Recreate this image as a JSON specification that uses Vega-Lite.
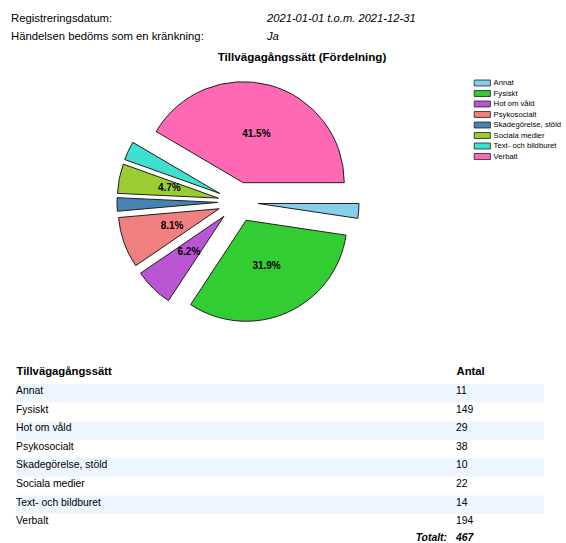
{
  "$schema": "https://vega.github.io/schema/vega-lite/v6.json",
  "padding": 0,
  "spacing": 0,
  "bounds": "flush",
  "config": {
    "view": {"stroke": null},
    "font": "Liberation Sans",
    "text": {"color": "#000000"}
  },
  "datasets": {
    "fordelning": [
      {"Tillvägagångssätt": "Annat", "Antal": 11},
      {"Tillvägagångssätt": "Fysiskt", "Antal": 149},
      {"Tillvägagångssätt": "Hot om våld", "Antal": 29},
      {"Tillvägagångssätt": "Psykosocialt", "Antal": 38},
      {"Tillvägagångssätt": "Skadegörelse, stöld", "Antal": 10},
      {"Tillvägagångssätt": "Sociala medier", "Antal": 22},
      {"Tillvägagångssätt": "Text- och bildburet", "Antal": 14},
      {"Tillvägagångssätt": "Verbalt", "Antal": 194}
    ],
    "urval": [
      {"Fält": "Registreringsdatum:", "Värde": "2021-01-01 t.o.m. 2021-12-31"},
      {"Fält": "Händelsen bedöms som en kränkning:", "Värde": "Ja"}
    ]
  },
  "vconcat": [
    {
      "width": 476,
      "height": 66,
      "data": {"name": "urval"},
      "encoding": {
        "y": {"field": "Fält", "type": "nominal", "sort": null, "axis": null,
              "scale": {"type": "point", "range": [18.5, 37], "padding": 0}}
      },
      "layer": [
        {
          "mark": {"type": "text", "align": "left", "baseline": "middle", "fontSize": 11.3},
          "encoding": {
            "x": {"datum": "Fält", "type": "nominal", "axis": null,
                  "scale": {"type": "point", "domain": ["Fält", "Värde"], "range": [11, 267], "padding": 0}},
            "text": {"field": "Fält"}
          }
        },
        {
          "mark": {"type": "text", "align": "left", "baseline": "middle", "fontSize": 11.2, "fontStyle": "italic"},
          "encoding": {
            "x": {"datum": "Värde", "type": "nominal"},
            "text": {"field": "Värde"}
          }
        }
      ]
    },
    {
      "width": 476,
      "height": 272,
      "title": {
        "text": "Tillvägagångssätt (Fördelning)",
        "fontSize": 11.6,
        "fontWeight": "bold",
        "color": "#000000",
        "anchor": "middle",
        "frame": "group",
        "dx": 64,
        "offset": 2
      },
      "data": {"name": "fordelning"},
      "transform": [
        {"joinaggregate": [{"op": "sum", "field": "Antal", "as": "Summa"}]}
      ],
      "encoding": {
        "theta": {"field": "Antal", "type": "quantitative", "stack": true,
                  "scale": {"range": [1.5707963, 7.8539816]}},
        "order": {"field": "Tillvägagångssätt", "type": "ordinal", "sort": "ascending"}
      },
      "layer": [
        {
          "mark": {
            "type": "arc",
            "radius": 101,
            "stroke": "#1e1e1e",
            "strokeWidth": 1,
            "xOffset": {"expr": "20*sin(PI/2 + PI*(datum.Antal_start + datum.Antal_end)/datum.Summa)"},
            "yOffset": {"expr": "-20*cos(PI/2 + PI*(datum.Antal_start + datum.Antal_end)/datum.Summa)"}
          },
          "encoding": {
            "color": {
              "field": "Tillvägagångssätt", "type": "nominal",
              "scale": {"range": ["#87CEEB", "#32CD32", "#BA55D3", "#F08080", "#4682B4", "#9ACD32", "#40E0D0", "#FF69B4"]},
              "legend": {
                "orient": "none",
                "legendX": 477.3,
                "legendY": 78,
                "title": null,
                "padding": 0,
                "symbolType": "M-1.9,-0.7H1.9V0.7H-1.9Z",
                "symbolSize": 72,
                "symbolStrokeColor": "#1e1e1e",
                "symbolStrokeWidth": 0.8,
                "symbolOpacity": 1,
                "labelFontSize": 7.7,
                "labelColor": "#000000",
                "labelOffset": 6.3,
                "rowPadding": 0.5
              }
            }
          }
        },
        {
          "transform": [
            {"calculate": "datum.Antal / datum.Summa >= 0.04 ? format(datum.Antal / datum.Summa, '.1%') : ''", "as": "Andel"}
          ],
          "mark": {"type": "text", "radius": 70, "fontSize": 10, "fontWeight": "bold", "color": "#000000"},
          "encoding": {
            "text": {"field": "Andel"}
          }
        }
      ]
    },
    {
      "width": 544,
      "height": 194.56,
      "data": {"name": "fordelning"},
      "transform": [
        {"window": [{"op": "row_number", "as": "Rad"}]}
      ],
      "encoding": {
        "y": {"field": "Tillvägagångssätt", "type": "nominal", "sort": "ascending", "axis": null,
              "scale": {"type": "band", "range": [46, 194.56], "paddingInner": 0, "paddingOuter": 0}}
      },
      "layer": [
        {
          "mark": {"type": "rect", "color": "#EDF5FE"},
          "encoding": {
            "x": {"datum": "Tillvägagångssätt", "type": "nominal",
                  "scale": {"type": "point", "domain": ["Tillvägagångssätt", "Antal"], "range": [16, 456], "padding": 0},
                  "axis": {"orient": "top", "title": null, "offset": -46, "ticks": false, "tickSize": 0, "domain": false,
                           "labelAlign": "left", "labelFontWeight": "bold", "labelFontSize": 11.3, "labelColor": "#000000",
                           "labelPadding": 7.5, "labelAngle": 0}},
            "x2": {"value": "width"},
            "fillOpacity": {"condition": {"test": "datum.Rad % 2 == 0", "value": 0}, "value": 1}
          }
        },
        {
          "mark": {"type": "text", "align": "left", "baseline": "alphabetic", "fontSize": 10.4, "dy": 0.8},
          "encoding": {
            "x": {"datum": "Tillvägagångssätt", "type": "nominal"},
            "text": {"field": "Tillvägagångssätt"}
          }
        },
        {
          "mark": {"type": "text", "align": "left", "baseline": "alphabetic", "fontSize": 10.4, "dy": 0.8},
          "encoding": {
            "x": {"datum": "Antal", "type": "nominal"},
            "text": {"field": "Antal"}
          }
        }
      ]
    },
    {
      "width": 544,
      "height": 10,
      "data": {"name": "fordelning"},
      "transform": [{"aggregate": [{"op": "sum", "field": "Antal", "as": "Totalt"}]}],
      "encoding": {
        "x": {"datum": "Antal", "type": "nominal", "axis": null,
              "scale": {"type": "point", "domain": ["Tillvägagångssätt", "Antal"], "range": [16, 456], "padding": 0}}
      },
      "layer": [
        {
          "mark": {"type": "text", "align": "right", "baseline": "middle", "fontSize": 10.4, "fontWeight": "bold", "fontStyle": "italic", "dx": -9},
          "encoding": {"text": {"value": "Totalt:"}}
        },
        {
          "mark": {"type": "text", "align": "left", "baseline": "middle", "fontSize": 10.4, "fontWeight": "bold", "fontStyle": "italic"},
          "encoding": {"text": {"field": "Totalt"}}
        }
      ]
    }
  ]
}
